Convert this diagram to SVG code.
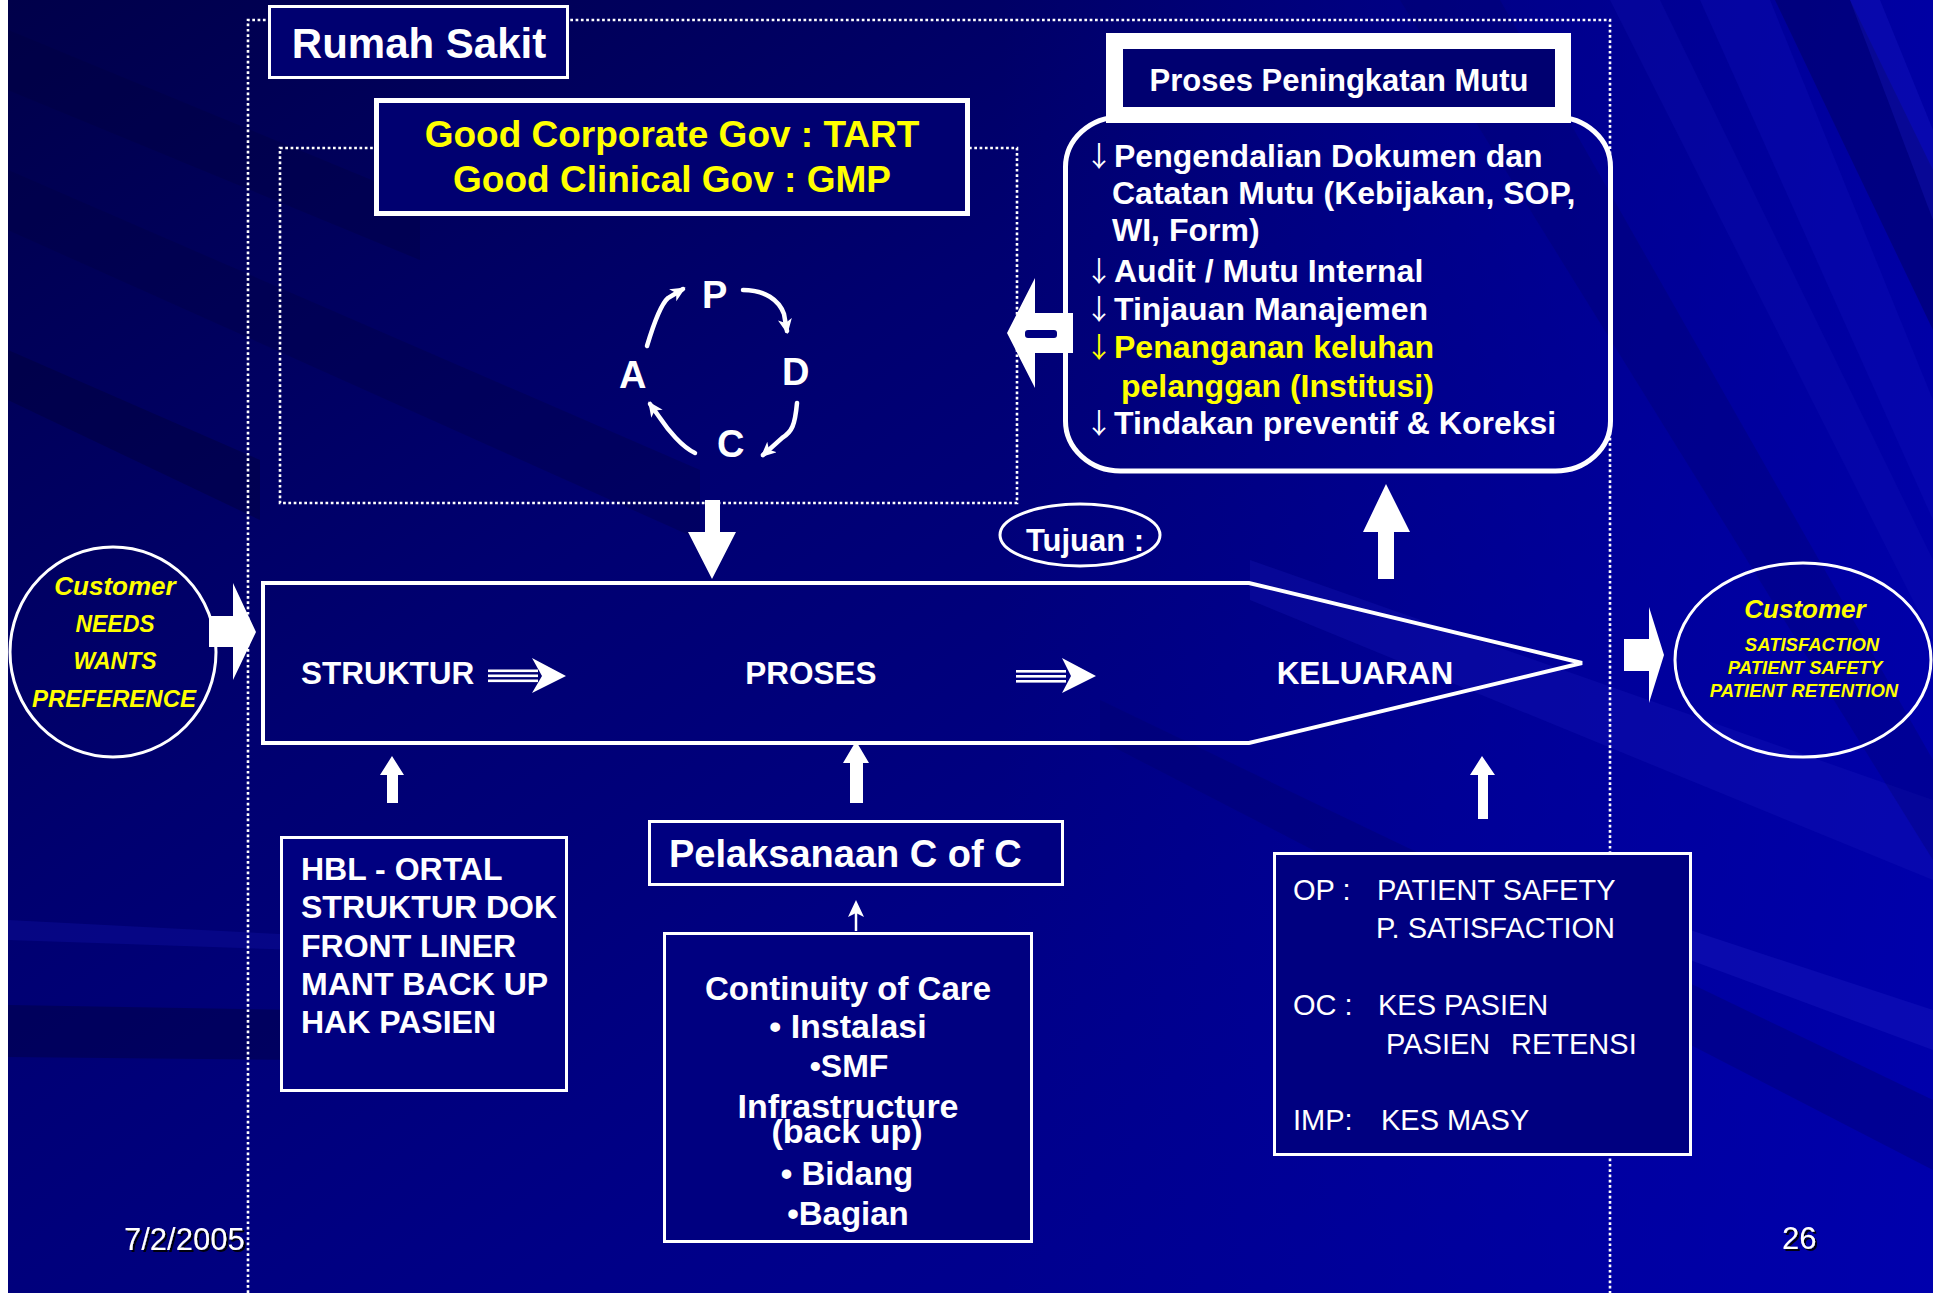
<svg xmlns="http://www.w3.org/2000/svg" width="1933" height="1293" viewBox="0 0 1933 1293">
<defs>
<style>
.t{font-family:"Liberation Sans",Arial,Helvetica,sans-serif}
.w{fill:#fff}
.y{fill:#ff0}
.b{font-weight:bold}
.i{font-style:italic}
.ar{font-family:"Noto Sans CJK SC","DejaVu Sans",sans-serif;font-weight:normal;font-size:28px}
.mid{text-anchor:middle}
.bx{fill:#000080;stroke:#fff;stroke-width:3}
.dot{fill:none;stroke:#fff;stroke-width:2.6;stroke-dasharray:2.7 2.6}
.wa{fill:#fff;stroke:none}
.cyc{fill:none;stroke:#fff;stroke-width:4.5;stroke-linecap:round;marker-end:url(#ah)}
</style>
<linearGradient id="bg" x1="0" y1="0" x2="1" y2="1">
<stop offset="0" stop-color="#00004a"/>
<stop offset="0.35" stop-color="#000070"/>
<stop offset="0.65" stop-color="#000088"/>
<stop offset="1" stop-color="#00009c"/>
</linearGradient>
<linearGradient id="rt" x1="0" y1="0" x2="1" y2="0">
<stop offset="0" stop-color="#0000a8" stop-opacity="0"/>
<stop offset="1" stop-color="#0000b4" stop-opacity="0.7"/>
</linearGradient>
<marker id="ah" markerUnits="userSpaceOnUse" markerWidth="18" markerHeight="16" refX="12" refY="7" orient="auto">
<path d="M0,0 L15,7 L0,14 L4,7 Z" fill="#fff"/>
</marker>
<filter id="sh" x="-10%" y="-20%" width="130%" height="150%">
<feDropShadow dx="2" dy="2" stdDeviation="0.3" flood-color="#000" flood-opacity="0.9"/>
</filter>
</defs>

<g id="background">
<rect x="0" y="0" width="1933" height="1293" fill="#fff"/>
<rect x="8" y="0" width="1925" height="1293" fill="url(#bg)"/>
<rect x="1000" y="0" width="933" height="1293" fill="url(#rt)"/>
<polygon points="8,30 420,200 420,260 8,90" fill="#000040" opacity="0.35"/>
<polygon points="8,170 700,470 700,540 8,230" fill="#000040" opacity="0.3"/>
<polygon points="8,350 260,460 260,520 8,400" fill="#000030" opacity="0.35"/>
<polygon points="8,1005 300,1010 300,1060 8,1057" fill="#000040" opacity="0.45"/>
<polygon points="8,920 300,935 300,950 8,940" fill="#1010a0" opacity="0.4"/>
<polygon points="1700,0 1770,0 1933,400 1933,520" fill="#1515c0" opacity="0.25"/>
<polygon points="1775,0 1850,0 1933,170 1933,330" fill="#00005a" opacity="0.45"/>
<polygon points="1850,0 1880,0 1933,130 1933,220" fill="#2020d0" opacity="0.25"/>
<polygon points="1610,0 1660,0 1933,560 1933,640" fill="#1a1ac0" opacity="0.2"/>
<polygon points="1250,560 1933,800 1933,880 1250,600" fill="#1a1ac0" opacity="0.25"/>
<polygon points="1690,930 1933,1010 1933,1050 1690,960" fill="#2020c8" opacity="0.3"/>
<polygon points="1100,700 1933,1100 1933,1170 1100,740" fill="#00006a" opacity="0.35"/>
<polygon points="1400,0 1500,0 1933,760 1933,860" fill="#00005e" opacity="0.25"/>
</g>

<g id="rumah-sakit-frame">
<path class="dot" d="M248,1293 V20 H1610 V1293"/>
</g>
<g id="pdca-frame">
<rect class="dot" x="280" y="148" width="737" height="355"/>
</g>

<g id="rumah-sakit">
<rect x="269.5" y="6.5" width="298" height="71" fill="#000070" stroke="#fff" stroke-width="3"/>
<text class="t w b mid" x="419" y="58" font-size="42">Rumah Sakit</text>
</g>

<g id="governance">
<rect x="376.5" y="100.5" width="591" height="113" fill="#000070" stroke="#fff" stroke-width="5"/>
<text class="t y b mid" x="672" y="147" font-size="37">Good Corporate Gov : TART</text>
<text class="t y b mid" x="672" y="192" font-size="37">Good Clinical Gov : GMP</text>
</g>

<g id="pdca">
<text class="t w b" x="702" y="308" font-size="38">P</text>
<text class="t w b" x="782" y="385" font-size="38">D</text>
<text class="t w b" x="717" y="457" font-size="38">C</text>
<text class="t w b" x="619" y="388" font-size="38">A</text>
<path class="cyc" d="M647,346 Q659,306 668,298 L683,289"/>
<path class="cyc" d="M743,290 C765,290 779,300 784,314 L787,331"/>
<path class="cyc" d="M797,403 C795,425 792,432 782,438 L763,455"/>
<path class="cyc" d="M695,453 C682,447 668,430 660,418 L650,404"/>
</g>

<g id="proses-peningkatan-mutu">
<rect x="1065.5" y="117" width="545" height="354" rx="55" ry="50" fill="none" stroke="#fff" stroke-width="5"/>
<rect x="1106" y="33" width="465" height="90" fill="#fff"/>
<rect x="1123" y="49" width="432" height="58" fill="#000070"/>
<text class="t w b mid" x="1339" y="91" font-size="31">Proses Peningkatan Mutu</text>
<text class="t w b" font-size="32" y="167"><tspan class="ar" x="1085">↓</tspan><tspan x="1114">Pengendalian Dokumen dan</tspan></text>
<text class="t w b" font-size="32" x="1112" y="204">Catatan Mutu (Kebijakan, SOP,</text>
<text class="t w b" font-size="32" x="1112" y="241">WI, Form)</text>
<text class="t w b" font-size="32" y="282"><tspan class="ar" x="1085">↓</tspan><tspan x="1114">Audit / Mutu Internal</tspan></text>
<text class="t w b" font-size="32" y="320"><tspan class="ar" x="1085">↓</tspan><tspan x="1114">Tinjauan Manajemen</tspan></text>
<text class="t y b" font-size="32" y="358"><tspan class="ar" x="1085">↓</tspan><tspan x="1114">Penanganan keluhan</tspan></text>
<text class="t y b" font-size="32" x="1121" y="397">pelanggan (Institusi)</text>
<text class="t w b" font-size="32" y="434"><tspan class="ar" x="1085">↓</tspan><tspan x="1114">Tindakan preventif &amp; Koreksi</tspan></text>
</g>

<g id="tujuan">
<ellipse cx="1080" cy="535" rx="80" ry="31" fill="none" stroke="#fff" stroke-width="3"/>
<text class="t w b mid" x="1085" y="551" font-size="31">Tujuan :</text>
</g>

<g id="alur-mutu">
<path d="M263,583 H1249 L1582,663 L1249,743 H263 Z" fill="none" stroke="#fff" stroke-width="4"/>
<text class="t w b" x="301" y="684" font-size="31.5">STRUKTUR</text>
<text class="t w b mid" x="811" y="684" font-size="31.5">PROSES</text>
<text class="t w b mid" x="1365" y="684" font-size="31.5">KELUARAN</text>
</g>

<g id="customer-input">
<ellipse cx="113" cy="652" rx="103" ry="105" fill="none" stroke="#fff" stroke-width="3"/>
<text class="t y b i mid" x="115" y="595" font-size="26">Customer</text>
<text class="t y b i mid" x="115" y="632" font-size="23">NEEDS</text>
<text class="t y b i mid" x="115" y="669" font-size="23">WANTS</text>
<text class="t y b i mid" x="114" y="707" font-size="24">PREFERENCE</text>
</g>

<g id="customer-output">
<ellipse cx="1803" cy="660" rx="128" ry="97" fill="none" stroke="#fff" stroke-width="3"/>
<text class="t y b i mid" x="1805" y="618" font-size="26">Customer</text>
<text class="t y b i mid" x="1812" y="651" font-size="18.5">SATISFACTION</text>
<text class="t y b i mid" x="1805" y="674" font-size="18.5">PATIENT SAFETY</text>
<text class="t y b i mid" x="1804" y="697" font-size="18.5">PATIENT RETENTION</text>
</g>

<g id="struktur-items">
<rect class="bx" x="281.5" y="837.5" width="285" height="253"/>
<text class="t w b" x="301" y="880" font-size="32">HBL - ORTAL</text>
<text class="t w b" x="301" y="918" font-size="32">STRUKTUR DOK</text>
<text class="t w b" x="301" y="957" font-size="32">FRONT LINER</text>
<text class="t w b" x="301" y="995" font-size="32">MANT BACK UP</text>
<text class="t w b" x="301" y="1033" font-size="32">HAK PASIEN</text>
</g>

<g id="pelaksanaan">
<rect class="bx" x="649.5" y="821.5" width="413" height="63"/>
<text class="t w b" x="669" y="867" font-size="38">Pelaksanaan C of C</text>
</g>

<g id="continuity">
<rect class="bx" x="664.5" y="933.5" width="367" height="308"/>
<text class="t w b mid" x="848" y="1000" font-size="33">Continuity of Care</text>
<text class="t w b mid" x="848" y="1038" font-size="34">• Instalasi</text>
<text class="t w b mid" x="849" y="1077" font-size="32">•SMF</text>
<text class="t w b mid" x="848" y="1118" font-size="34">Infrastructure</text>
<text class="t w b mid" x="847" y="1143" font-size="34">(back up)</text>
<text class="t w b mid" x="847" y="1185" font-size="33">• Bidang</text>
<text class="t w b mid" x="848" y="1225" font-size="33">•Bagian</text>
</g>

<g id="outcome">
<rect class="bx" x="1274.5" y="853.5" width="416" height="301"/>
<text class="t w" font-size="29" y="900"><tspan x="1293">OP :</tspan><tspan x="1377">PATIENT SAFETY</tspan></text>
<text class="t w" font-size="29" x="1376" y="938">P. SATISFACTION</text>
<text class="t w" font-size="29" y="1015"><tspan x="1293">OC :</tspan><tspan x="1378">KES PASIEN</tspan></text>
<text class="t w" font-size="29" y="1054"><tspan x="1386">PASIEN</tspan><tspan x="1511">RETENSI</tspan></text>
<text class="t w" font-size="29" y="1130"><tspan x="1293">IMP:</tspan><tspan x="1381">KES MASY</tspan></text>
</g>

<g id="connectors">
<polygon class="wa" points="1007,333 1035,278 1035,313 1073,313 1073,353 1035,353 1035,388"/>
<rect x="1025" y="330" width="32" height="8" rx="3" fill="#000080"/>
<polygon class="wa" points="705,500 720,500 720,532 736,532 712,579 688,532 705,532"/>
<polygon class="wa" points="1378,579 1394,579 1394,532 1410,532 1386,484 1363,532 1378,532"/>
<polygon class="wa" points="209,616 233,616 233,583 256,632 233,680 233,647 209,647"/>
<polygon class="wa" points="1624,639 1649,639 1649,607 1664,655 1649,703 1649,671 1624,671"/>
<g id="flow-arrow-1">
<rect class="wa" x="488" y="669.5" width="50" height="2.6"/>
<rect class="wa" x="488" y="674.5" width="50" height="2.6"/>
<rect class="wa" x="488" y="679.5" width="50" height="2.6"/>
<polygon class="wa" points="532,658 566,676 532,693 542,676"/>
</g>
<g id="flow-arrow-2">
<rect class="wa" x="1016" y="670" width="50" height="2.6"/>
<rect class="wa" x="1016" y="675" width="50" height="2.6"/>
<rect class="wa" x="1016" y="680" width="50" height="2.6"/>
<polygon class="wa" points="1062,658 1096,676 1062,693 1071,676"/>
</g>
<polygon class="wa" points="387,803 398,803 398,775 404,775 392,756 380,775 387,775"/>
<polygon class="wa" points="850,803 863,803 863,763 869,763 856,741 843,763 850,763"/>
<polygon class="wa" points="1478,819 1488,819 1488,775 1495,775 1482,756 1470,775 1478,775"/>
<line x1="856" y1="931" x2="856" y2="910" stroke="#fff" stroke-width="2.5"/>
<polygon class="wa" points="856,900 864,917 856,913 848,917"/>
</g>

<g id="footer">
<text class="t w" x="124" y="1250" font-size="31" filter="url(#sh)">7/2/2005</text>
<text class="t w" x="1782" y="1249" font-size="31" filter="url(#sh)">26</text>
</g>
</svg>
